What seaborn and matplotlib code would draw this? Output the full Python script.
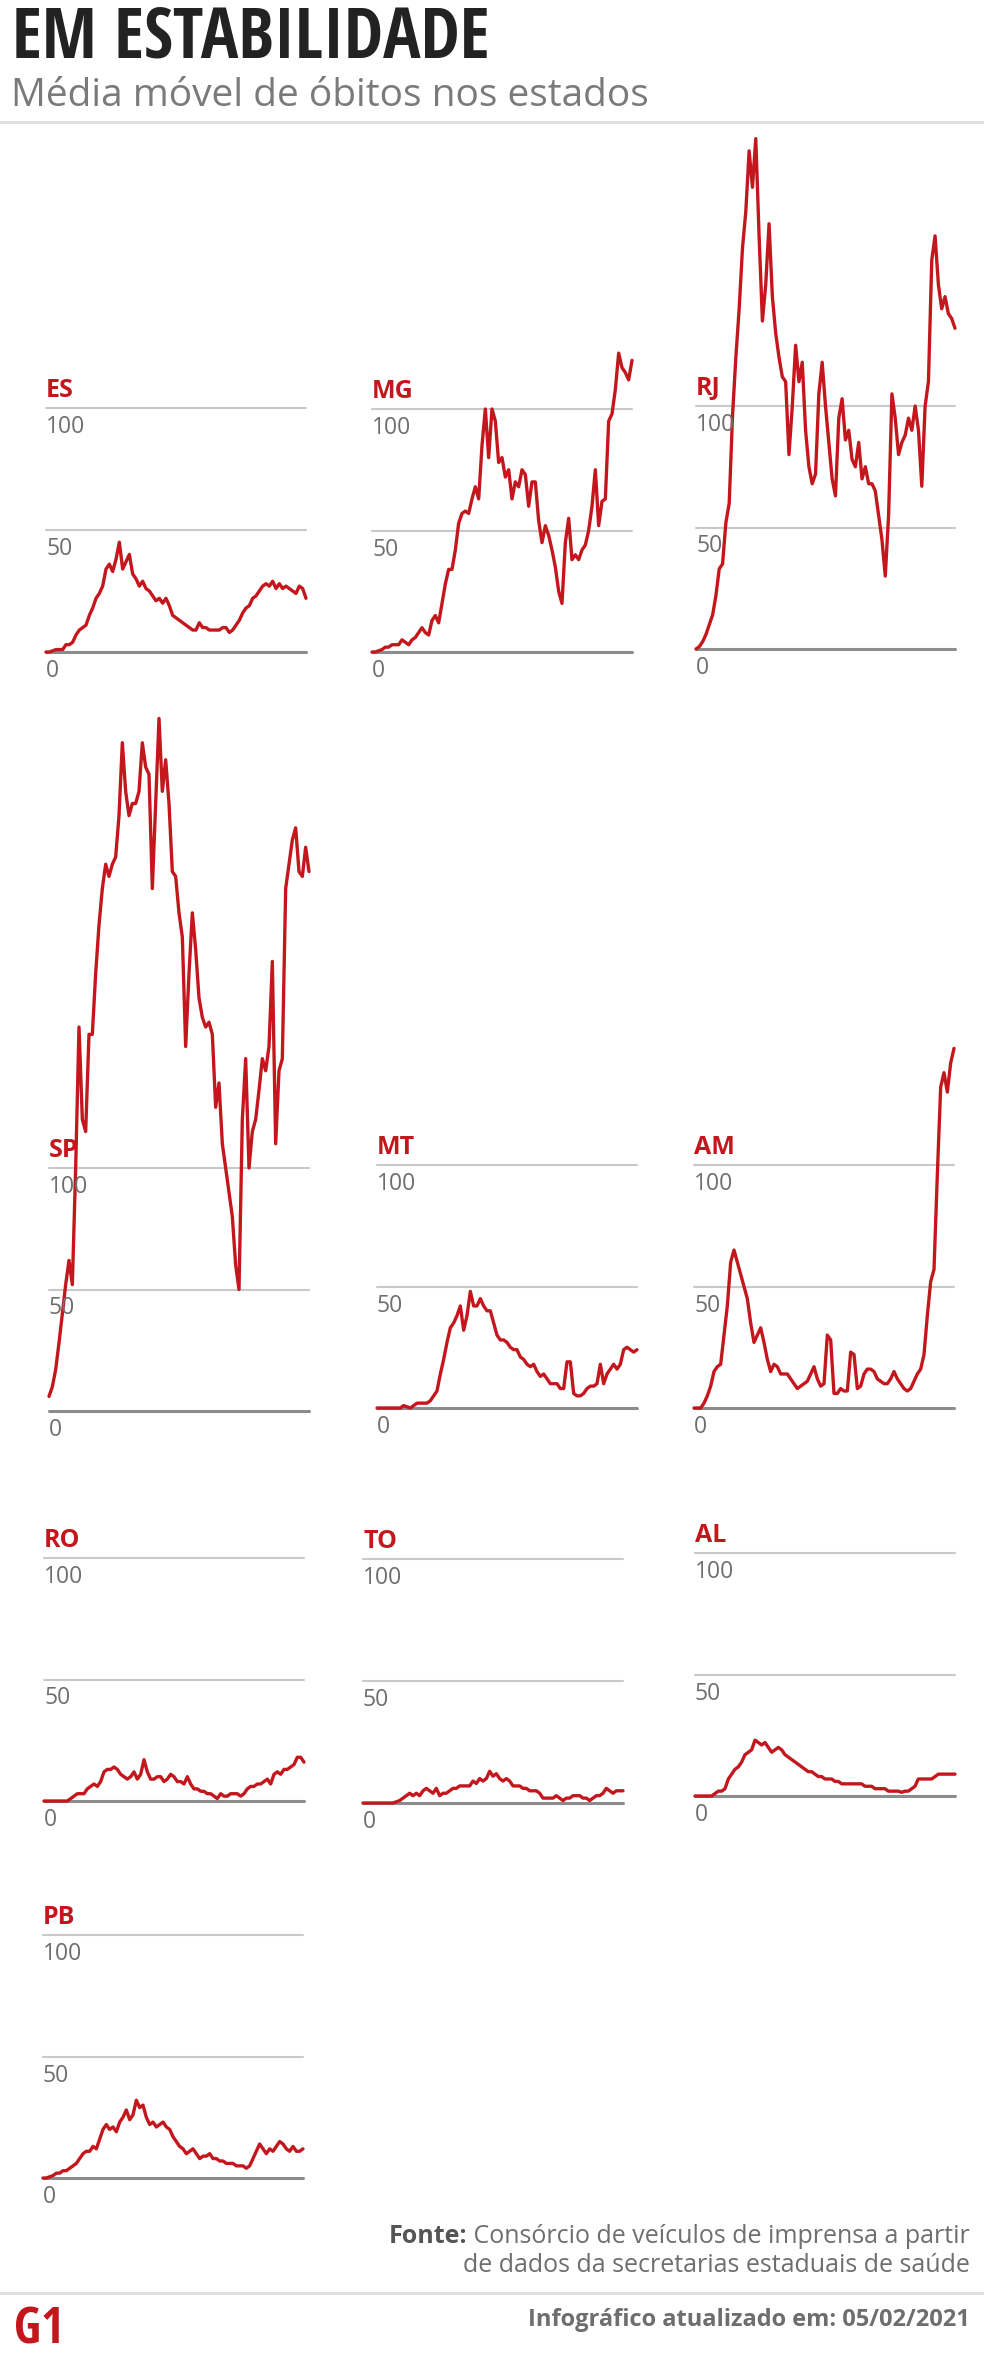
# media movel de obitos por estado - G1 "Em estabilidade"
import numpy as np
import pandas as pd
import matplotlib
matplotlib.use("Agg")
import matplotlib.pyplot as plt
from matplotlib.lines import Line2D
import seaborn as sns

# --- DATA --- (media movel, 79 pontos de mar/2020 a fev/2021)
ES = [0, 0, 0.5, 1, 1, 1, 3, 3, 4, 7,
      9, 10, 11, 15, 18, 22, 24, 27, 34, 36,
      33, 38, 45, 34, 37, 40, 32, 30, 27, 29,
      26, 25, 23, 21, 22, 20, 22, 19, 15, 14,
      13, 12, 11, 10, 9, 9, 12, 10, 10, 9,
      9, 9, 9, 10, 10, 8, 9, 11, 13, 16,
      18, 19, 22, 23, 25, 27, 28, 27, 29, 26,
      28, 26, 27, 26, 25, 24, 27, 26, 22]
MG = [0, 0, 0.5, 1, 2, 2, 3, 3, 3, 5,
      4, 3, 5, 6, 8, 10, 8, 7, 13, 15,
      12, 20, 28, 34, 34, 42, 53, 57, 58, 57,
      63, 68, 63, 85, 100, 80, 100, 95, 78, 80,
      72, 75, 63, 70, 68, 75, 73, 60, 70, 70,
      54, 45, 52, 48, 42, 35, 25, 20, 45, 55,
      38, 40, 38, 42, 44, 50, 60, 75, 52, 62,
      63, 95, 98, 108, 123, 117, 115, 112, 120]
RJ = [0, 1, 3, 6, 10, 14, 22, 33, 35, 52,
      60, 96, 120, 140, 165, 180, 205, 190, 210, 170,
      135, 150, 175, 145, 130, 120, 112, 110, 80, 100,
      125, 110, 118, 90, 75, 68, 72, 105, 118, 100,
      85, 70, 63, 95, 103, 86, 90, 78, 75, 85,
      70, 75, 68, 68, 65, 55, 45, 30, 55, 105,
      95, 80, 85, 88, 95, 90, 100, 90, 67, 100,
      110, 160, 170, 150, 140, 145, 138, 136, 132]
SP = [6, 10, 17, 28, 40, 52, 62, 52, 100, 158,
      120, 115, 155, 155, 180, 200, 215, 225, 220, 225,
      228, 245, 275, 255, 245, 250, 250, 255, 275, 265,
      262, 215, 250, 285, 255, 268, 250, 222, 220, 205,
      195, 150, 180, 205, 190, 170, 162, 158, 160, 155,
      125, 135, 110, 100, 90, 80, 60, 50, 120, 145,
      100, 115, 120, 132, 145, 140, 150, 185, 110, 140,
      145, 215, 225, 235, 240, 222, 220, 232, 222]
MT = [0, 0, 0, 0, 0, 0, 0, 0, 1, 0.5,
      0, 1, 2, 2, 2, 2, 3, 5, 7, 14,
      20, 27, 33, 35, 38, 42, 32, 38, 48, 42,
      42, 45, 42, 40, 40, 35, 30, 28, 28, 27,
      25, 24, 24, 21, 20, 18, 17, 18, 15, 13,
      14, 12, 10, 10, 10, 8, 8, 19, 19, 6,
      5, 5, 6, 8, 9, 9, 10, 18, 10, 14,
      16, 18, 16, 18, 24, 25, 24, 23, 24]
AM = [0, 0, 0, 2, 5, 9, 15, 17, 18, 30,
      42, 60, 65, 60, 55, 50, 45, 35, 27, 30,
      33, 27, 20, 15, 18, 17, 14, 14, 14, 12,
      10, 8, 9, 10, 11, 14, 17, 12, 9, 10,
      30, 28, 6, 6, 8, 7, 7, 23, 22, 8,
      9, 14, 16, 16, 15, 12, 11, 10, 10, 12,
      15, 12, 10, 8, 7, 8, 11, 14, 16, 22,
      38, 52, 57, 96, 132, 138, 130, 142, 148]
RO = [0, 0, 0, 0, 0, 0, 0, 0, 1, 2,
      3, 3, 3, 5, 6, 7, 6, 8, 12, 13,
      13, 14, 13, 11, 10, 9, 10, 12, 9, 11,
      17, 12, 9, 9, 10, 10, 8, 9, 11, 10,
      8, 8, 7, 10, 7, 5, 5, 4, 4, 3,
      3, 2, 1, 3, 2, 2, 3, 3, 3, 2,
      3, 5, 6, 6, 7, 7, 8, 9, 7, 11,
      12, 11, 13, 13, 14, 15, 18, 18, 16]
TO = [0, 0, 0, 0, 0, 0, 0, 0, 0, 0,
      0.5, 1, 2, 3, 4, 3, 4, 3, 5, 6,
      5, 4, 6, 3, 4, 4, 5, 6, 6, 7,
      7, 7, 7, 9, 8, 10, 9, 10, 13, 11,
      12, 10, 9, 10, 9, 7, 7, 7, 6, 6,
      5, 5, 5, 4, 2, 2, 2, 2, 3, 2,
      1, 2, 2, 3, 3, 3, 2, 2, 1, 2,
      3, 3, 4, 6, 5, 4, 5, 5, 5]
AL = [0, 0, 0, 0, 0, 0, 1, 2, 2, 3,
      7, 9, 11, 12, 14, 17, 18, 19, 23, 22,
      21, 22, 20, 18, 19, 20, 19, 17, 16, 15,
      14, 13, 12, 11, 10, 10, 9, 8, 8, 7,
      7, 7, 6, 6, 5, 5, 5, 5, 5, 5,
      5, 4, 4, 4, 3, 3, 3, 3, 2, 2,
      2, 2, 1.5, 2, 2, 3, 4, 7, 7, 7,
      7, 7, 8, 9, 9, 9, 9, 9, 9]
PB = [0, 0, 0.5, 1, 2, 2, 3, 3, 4, 5,
      6, 8, 10, 11, 11, 13, 12, 16, 20, 22,
      20, 21, 19, 23, 25, 28, 24, 26, 32, 29,
      30, 25, 22, 23, 21, 22, 23, 21, 20, 17,
      15, 13, 12, 10, 11, 12, 10, 8, 9, 9,
      10, 8, 8, 7, 7, 6, 6, 6, 5, 5,
      5, 4, 5, 8, 11, 14, 12, 10, 12, 11,
      13, 15, 14, 12, 11, 13, 11, 11, 12]

states = ["ES", "MG", "RJ", "SP", "MT", "AM", "RO", "TO", "AL", "PB"]
series = [ES, MG, RJ, SP, MT, AM, RO, TO, AL, PB]
ticks = [0, 50, 100]

# panel boxes in pixels: left, right, y of 0, y of 100
boxes = [(46, 306, 652, 408), (372, 632, 652, 409), (696, 955, 649, 406),
         (49, 309, 1411, 1168), (377, 637, 1408, 1165), (694, 954, 1408, 1165),
         (44, 304, 1801, 1558), (363, 623, 1803, 1559), (695, 955, 1796, 1553),
         (43, 303, 2178, 1935)]

W, H = 984, 2369
RED = "#c4171d"
GRID = "#c9c9c9"
BASE = "#8c8c8c"
TICK = "#6e6e6e"

sns.set_theme(style="white")
plt.rcParams["font.family"] = ["Open Sans", "DejaVu Sans"]
COND = ["Open Sans Condensed", "Open Sans", "DejaVu Sans"]

fig = plt.figure(figsize=(W / 100, H / 100), dpi=100)
fig.patch.set_facecolor("white")


def ftext(x, y, s, **kw):
    return fig.text(x / W, 1 - y / H, s, **kw)


def hline(y, x0, x1, color, lw):
    fig.add_artist(Line2D([x0 / W, x1 / W], [1 - y / H, 1 - y / H],
                          color=color, lw=lw, transform=fig.transFigure))


for name, vals, (left, right, y0, y100) in zip(states, series, boxes):
    ax = fig.add_axes([left / W, 1 - y0 / H, (right - left) / W, (y0 - y100) / H])
    df = pd.DataFrame({"dia": np.arange(len(vals)), "obitos": vals})
    for t in ticks[1:]:
        ax.axhline(t, color=GRID, lw=1.5, clip_on=False, zorder=1)
    ax.axhline(0, color=BASE, lw=2.2, clip_on=False, zorder=1)
    sns.lineplot(data=df, x="dia", y="obitos", ax=ax, color=RED,
                 linewidth=2.4, clip_on=False, zorder=3)
    ax.set_xlim(0, len(vals) - 1)
    ax.set_ylim(0, 100)
    ax.axis("off")
    for t in ticks:
        ax.annotate(str(t), xy=(0, t), xycoords=("axes fraction", "data"),
                    xytext=(0, -18), textcoords="offset points", ha="left",
                    va="baseline", fontsize=16.5, color=TICK, annotation_clip=False)
    ax.annotate(name, xy=(0, 100), xycoords=("axes fraction", "data"),
                xytext=(0, 8), textcoords="offset points", ha="left",
                va="baseline", fontsize=18, fontweight="bold", color=RED,
                annotation_clip=False)

# titles
ftext(12, 58, "EM ESTABILIDADE", fontsize=50.5, fontweight="bold",
      color="#222222", family=COND)
ftext(11, 106, "Média móvel de óbitos nos estados", fontsize=28, color="#7a7a7a")
hline(122, 0, W, "#e1e1e1", 2.2)

# footer
src = ftext(970, 2243, " Consórcio de veículos de imprensa a partir",
            fontsize=18, color="#6e6e6e", ha="right")
fig.canvas.draw()
bb = src.get_window_extent(renderer=fig.canvas.get_renderer())
fig.text(bb.x0 / W, 1 - 2243 / H, "Fonte:", fontsize=18, fontweight="bold",
         color="#555555", ha="right")
ftext(970, 2272, "de dados da secretarias estaduais de saúde",
      fontsize=18, color="#6e6e6e", ha="right")
hline(2293, 0, W, "#e1e1e1", 2.2)
ftext(970, 2326, "Infográfico atualizado em: 05/02/2021", fontsize=17,
      fontweight="bold", color="#6e6e6e", ha="right")
ftext(14, 2343, "G1", fontsize=36, fontweight="bold", color=RED, family=COND)

fig.savefig("out.png", dpi=100, facecolor="white")
